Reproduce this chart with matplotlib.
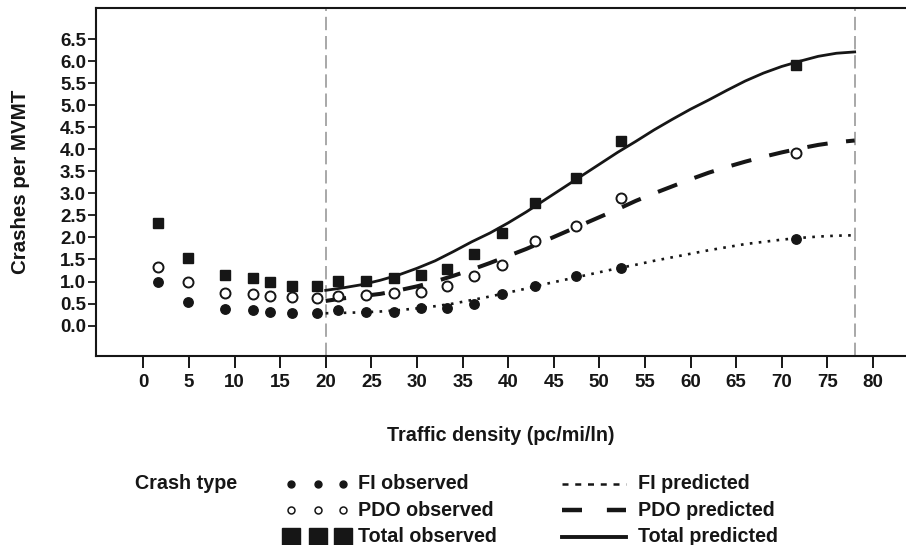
import matplotlib
matplotlib.use("Agg")
import matplotlib.pyplot as plt
from matplotlib.lines import Line2D

plt.rcParams['font.family'] = ['Liberation Sans', 'DejaVu Sans']
plt.rcParams['font.weight'] = 'bold'

# observed crash rates by traffic density
density_obs = [1.6, 4.9, 9.0, 12.0, 13.9, 16.3, 19.0, 21.4, 24.4, 27.5, 30.4,
               33.3, 36.3, 39.3, 42.9, 47.4, 52.4, 71.6]
fi_obs = [0.99, 0.54, 0.38, 0.35, 0.31, 0.28, 0.28, 0.36, 0.31, 0.31, 0.39,
          0.39, 0.50, 0.72, 0.90, 1.12, 1.30, 1.96]
pdo_obs = [1.34, 1.00, 0.73, 0.72, 0.67, 0.64, 0.62, 0.67, 0.69, 0.73, 0.76,
           0.89, 1.13, 1.38, 1.93, 2.26, 2.90, 3.91]
total_obs = [2.32, 1.53, 1.14, 1.09, 0.98, 0.90, 0.90, 1.01, 1.01, 1.09, 1.14,
             1.28, 1.62, 2.11, 2.78, 3.34, 4.19, 5.91]

# model predictions over the fitted range
density_pred = [20, 22, 24, 26, 28, 30, 32, 34, 36, 38, 40, 42, 44, 46, 48,
                50, 52, 54, 56, 58, 60, 62, 64, 66, 68, 70, 72, 74, 76, 78]
fi_pred = [0.28, 0.29, 0.30, 0.32, 0.35, 0.39, 0.44, 0.50, 0.58, 0.66, 0.75,
           0.84, 0.94, 1.03, 1.12, 1.21, 1.30, 1.38, 1.47, 1.55, 1.63, 1.71,
           1.78, 1.85, 1.90, 1.95, 1.99, 2.02, 2.04, 2.05]
pdo_pred = [0.56, 0.62, 0.67, 0.72, 0.80, 0.89, 1.00, 1.13, 1.27, 1.42, 1.58,
            1.74, 1.92, 2.10, 2.28, 2.46, 2.64, 2.83, 3.00, 3.16, 3.32, 3.47,
            3.60, 3.72, 3.83, 3.93, 4.02, 4.10, 4.16, 4.20]
total_pred = [0.80, 0.86, 0.93, 1.03, 1.15, 1.30, 1.47, 1.68, 1.90, 2.10, 2.33,
              2.58, 2.85, 3.12, 3.39, 3.66, 3.93, 4.18, 4.44, 4.68, 4.91, 5.12,
              5.34, 5.55, 5.73, 5.88, 6.00, 6.11, 6.18, 6.21]

fit_bounds = [20, 78]
x_ticks = list(range(0, 81, 5))
y_ticks = [i * 0.5 for i in range(14)]

ink = '#161616'

fig = plt.figure(figsize=(9.06, 5.45), dpi=100)
ax = fig.add_axes([96 / 906, 189 / 545, 810 / 906, 347.7 / 545])

for xb in fit_bounds:
    ax.axvline(xb, color='#9a9a9a', lw=1.2, dashes=(8, 3.5), zorder=1)

ax.plot(density_obs, fi_obs, 'o', color=ink, ms=6.8, zorder=3)
ax.plot(density_obs, pdo_obs, 'o', mfc='white', mec=ink, mew=1.4, ms=7.2, zorder=3)
ax.plot(density_obs, total_obs, 's', color=ink, ms=7, zorder=3)

ax.plot(density_pred, fi_pred, color=ink, lw=1.9, dashes=(1, 2.4), zorder=2)
ax.plot(density_pred, pdo_pred, color=ink, lw=2.9, dashes=(5.1, 4.6), zorder=2)
ax.plot(density_pred, total_pred, color=ink, lw=2.0, zorder=2)

ax.set_xlim(-5.19, 83.63)
ax.set_ylim(-0.69, 7.20)
ax.set_xticks(x_ticks)
ax.set_yticks(y_ticks)
ax.set_yticklabels([f"{v:.1f}" for v in y_ticks])
ax.tick_params(axis='x', length=8.5, width=1.4, pad=4.5, labelsize=13.5, colors=ink)
ax.tick_params(axis='y', length=6, width=1.3, pad=1.2, labelsize=13.5, colors=ink)
for lab in ax.get_xticklabels() + ax.get_yticklabels():
    lab.set_fontweight('bold')

for side in ['left', 'top', 'bottom']:
    ax.spines[side].set_linewidth(1.5)
    ax.spines[side].set_color(ink)
ax.spines['right'].set_visible(False)

ax.set_xlabel("Traffic density (pc/mi/ln)", fontsize=14.2, fontweight='bold', color=ink)
ax.xaxis.set_label_coords(0.5, -0.2)
ax.set_ylabel("Crashes per MVMT", fontsize=14.8, fontweight='bold', color=ink)
ax.yaxis.set_label_coords(-0.0815, 0.5)

# legend block below the axes, laid out in pixel units
lax = fig.add_axes([0, 0, 1, 1])
lax.set_xlim(0, 906)
lax.set_ylim(545, 0)
lax.axis('off')

fs_leg = 14.2
rows = [483.5, 510, 536.5]
lax.text(135, rows[0], "Crash type", fontsize=fs_leg, fontweight='bold', va='center', color=ink)

obs_styles = [
    ("FI observed", dict(marker='o', color=ink, ms=5)),
    ("PDO observed", dict(marker='o', mfc='white', mec=ink, mew=1.1, ms=5)),
    ("Total observed", dict(marker='s', color=ink, ms=13.5)),
]
for (label, style), y in zip(obs_styles, rows):
    lax.plot([291, 318, 343], [y, y, y], ls='none', **style)
    lax.text(358, y, label, fontsize=fs_leg, fontweight='bold', va='center', color=ink)

pred_styles = [
    ("FI predicted", dict(lw=1.8, dashes=(2.4, 2.7))),
    ("PDO predicted", dict(lw=3.2, dashes=(4.5, 5.6))),
    ("Total predicted", dict(lw=2.8)),
]
for (label, style), y in zip(pred_styles, rows):
    lax.add_line(Line2D([562, 626], [y, y], color=ink, **style))
    lax.text(638, y, label, fontsize=fs_leg, fontweight='bold', va='center', color=ink)

fig.savefig("out.png", dpi=100)
